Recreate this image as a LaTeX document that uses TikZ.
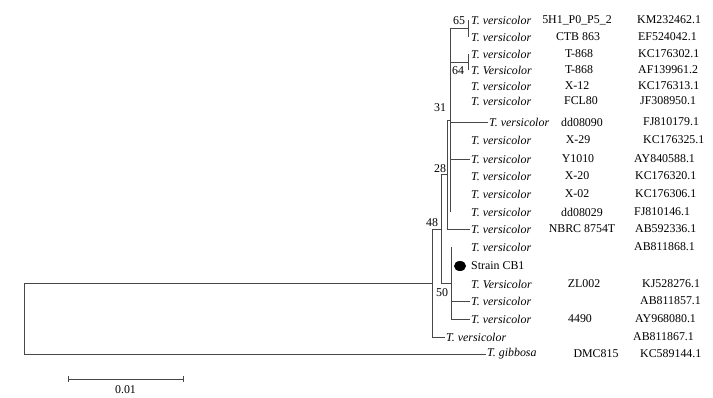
\documentclass[tikz,border=0pt]{standalone}
\usepackage{fontspec}
\setmainfont{Liberation Serif}
\begin{document}
\begin{tikzpicture}[x=1pt,y=-1pt,
  br/.style={draw=black!72,line width=0.9pt},
  leaf/.style={anchor=west,inner sep=1pt,font=\fontsize{11.9}{12}\selectfont\itshape},
  strain/.style={anchor=center,inner sep=1pt,font=\fontsize{11.9}{12}\selectfont},
  acc/.style={anchor=west,inner sep=1pt,font=\fontsize{11.9}{12}\selectfont},
  boot/.style={anchor=center,inner sep=0pt,font=\fontsize{11.9}{12}\selectfont}]
\useasboundingbox (0,0) rectangle (713,397);
% leaves
\node[leaf] (l1) at (470,20) {T. versicolor};
\node[leaf] (l2) at (470,37) {T. versicolor};
\node[leaf] (l3) at (470,54) {T. versicolor};
\node[leaf] (l4) at (470,70) {T. Versicolor};
\node[leaf] (l5) at (470,86) {T. versicolor};
\node[leaf] (l6) at (470,101) {T. versicolor};
\node[leaf] (l7) at (488,122) {T. versicolor};
\node[leaf] (l8) at (470,140) {T. versicolor};
\node[leaf] (l9) at (470,159) {T. versicolor};
\node[leaf] (l10) at (470,176) {T. versicolor};
\node[leaf] (l11) at (470,194) {T. versicolor};
\node[leaf] (l12) at (470,212) {T. versicolor};
\node[leaf] (l13) at (470,229) {T. versicolor};
\node[leaf] (l14) at (470,247) {T. versicolor};
\node[leaf,font=\fontsize{11.9}{12}\selectfont] (l15) at (470,266) {Strain CB1};
\node[leaf] (l16) at (470,284) {T. Versicolor};
\node[leaf] (l17) at (470,301) {T. versicolor};
\node[leaf] (l18) at (470,319) {T. versicolor};
\node[leaf] (l19) at (445,337) {T. versicolor};
\node[leaf] (l20) at (486,354) {T. gibbosa};
\fill[black] (460,266) ellipse (6 and 5);
% strain column
\node[strain] (s1) at (577,20) {5H1\_P0\_P5\_2};
\node[strain] (s2) at (578,37) {CTB 863};
\node[strain] (s3) at (579,54) {T-868};
\node[strain] (s4) at (579,70) {T-868};
\node[strain] (s5) at (577,86) {X-12};
\node[strain] (s6) at (581,101) {FCL80};
\node[strain] (s7) at (582,122) {dd08090};
\node[strain] (s8) at (578,140) {X-29};
\node[strain] (s9) at (578,159) {Y1010};
\node[strain] (s10) at (577,176) {X-20};
\node[strain] (s11) at (577,194) {X-02};
\node[strain] (s12) at (582,212) {dd08029};
\node[strain] (s13) at (582,229) {NBRC 8754T};
\node[strain] (s16) at (584,284) {ZL002};
\node[strain] (s18) at (580,319) {4490};
\node[strain] (s20) at (596,354) {DMC815};
% accession column
\node[acc] (a1) at (636,20) {KM232462.1};
\node[acc] (a2) at (637,37) {EF524042.1};
\node[acc] (a3) at (637,54) {KC176302.1};
\node[acc] (a4) at (637,70) {AF139961.2};
\node[acc] (a5) at (637,86) {KC176313.1};
\node[acc] (a6) at (639,101) {JF308950.1};
\node[acc] (a7) at (642,122) {FJ810179.1};
\node[acc] (a8) at (642,140) {KC176325.1};
\node[acc] (a9) at (633,159) {AY840588.1};
\node[acc] (a10) at (634,176) {KC176320.1};
\node[acc] (a11) at (634,194) {KC176306.1};
\node[acc] (a12) at (633,212) {FJ810146.1};
\node[acc] (a13) at (634,229) {AB592336.1};
\node[acc] (a14) at (633,247) {AB811868.1};
\node[acc] (a16) at (641,284) {KJ528276.1};
\node[acc] (a17) at (639,301) {AB811857.1};
\node[acc] (a18) at (634,319) {AY968080.1};
\node[acc] (a19) at (632,337) {AB811867.1};
\node[acc] (a20) at (639,354) {KC589144.1};
% internal nodes
\coordinate (n65) at (468,28.5);
\coordinate (n64) at (468,62);
\coordinate (n31) at (450,120);
\coordinate (n28) at (447,174.5);
\coordinate (n48) at (441,229);
\coordinate (n50) at (451,283);
\coordinate (nA) at (432,283);
\coordinate (root) at (24,318.5);
% verticals
\draw[br] (468,20) -- (468,37);
\draw[br] (468,54) -- (468,70);
\draw[br] (450,28.5) -- (450,212);
\draw[br] (447,120) -- (447,229);
\draw[br] (441,174.5) -- (441,283);
\draw[br] (451,247) -- (451,319);
\draw[br] (432,229) -- (432,337);
\draw[br] (24,283) -- (24,354);
% horizontals
\draw[br] (450,28.5) -- (n65);
\draw[br] (450,62) -- (n64);
\draw[br] (447,120) -- (n31);
\draw[br] (441,174.5) -- (n28);
\draw[br] (432,229) -- (n48);
\draw[br] (441,283) -- (n50);
\draw[br] (24,283) -- (nA);
\draw[br] (450,122) -- (l7.west);
\draw[br] (450,159) -- (l9.west);
\draw[br] (447,229) -- (l13.west);
\draw[br] (451,301) -- (l17.west);
\draw[br] (451,319) -- (l18.west);
\draw[br] (432,337) -- (l19.west);
\draw[br] (24,354) -- (l20.west);
% bootstrap values
\node[boot] (b65) at (459,21) {65};
\node[boot] (b64) at (458,71) {64};
\node[boot] (b31) at (440,108) {31};
\node[boot] (b28) at (440,169) {28};
\node[boot] (b48) at (432,223) {48};
\node[boot] (b50) at (442,293) {50};
% scale bar
\coordinate (sb1) at (68,379);
\coordinate (sb2) at (183,379);
\draw[br] (sb1) -- (sb2);
\draw[br] (68,376) -- (68,382);
\draw[br] (183,376) -- (183,382);
\node[boot] (sbl) at (125.5,390) {0.01};
\end{tikzpicture}
\end{document}
